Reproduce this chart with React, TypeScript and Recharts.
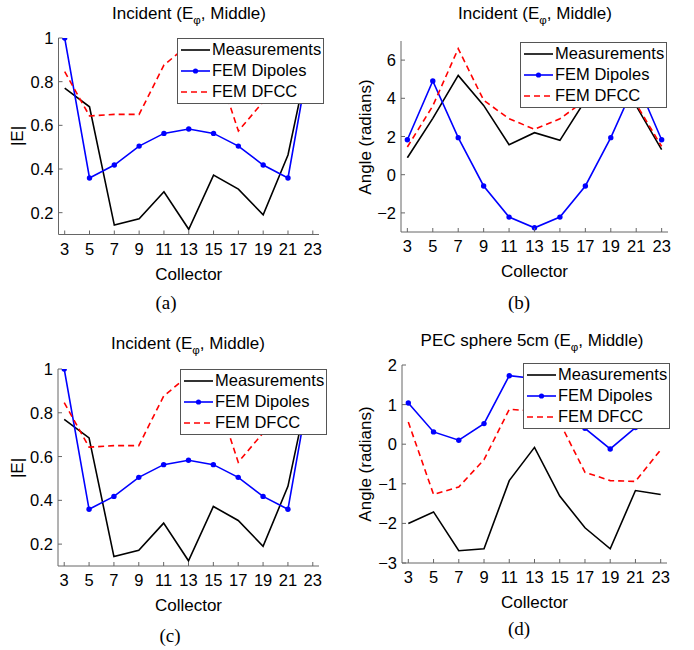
import React from 'react';
import { LineChart, Line, XAxis, YAxis, Legend } from 'recharts';

const collectors = [3, 5, 7, 9, 11, 13, 15, 17, 19, 21, 23];
const xTicks = [3, 5, 7, 9, 11, 13, 15, 17, 19, 21, 23];

// Panels (a) and (c): |E|
const magMeas = [0.77, 0.685, 0.143, 0.172, 0.296, 0.124, 0.372, 0.308, 0.19, 0.464, 1.0];
const magDip = [1.0, 0.359, 0.418, 0.505, 0.563, 0.583, 0.563, 0.505, 0.418, 0.359, 1.0];
const magDfcc = [0.846, 0.643, 0.65, 0.65, 0.876, 0.97, 0.92, 0.574, 0.708, 0.84, 0.86];
const magTicks = [0.2, 0.4, 0.6, 0.8, 1];

// Panel (b): Angle, incident
const angMeas = [0.89, 2.95, 5.2, 3.63, 1.57, 2.2, 1.8, 3.9, 4.8, 3.6, 1.31];
const angDip = [1.83, 4.91, 1.94, -0.59, -2.22, -2.78, -2.22, -0.59, 1.94, 4.91, 1.83];
const angDfcc = [1.45, 3.6, 6.6, 3.9, 2.93, 2.38, 2.93, 3.9, 6.6, 3.7, 1.48];
const angTicks = [-2, 0, 2, 4, 6];

// Panel (d): Angle, PEC sphere
const pecMeas = [-2.0, -1.71, -2.69, -2.64, -0.92, -0.08, -1.31, -2.11, -2.64, -1.17, -1.27];
const pecDip = [1.04, 0.31, 0.1, 0.52, 1.73, 1.66, 1.2, 0.4, -0.12, 0.42, 1.0];
const pecDfcc = [0.56, -1.27, -1.08, -0.39, 0.88, 0.84, 0.55, -0.71, -0.92, -0.94, -0.14];
const pecTicks = [-3, -2, -1, 0, 1, 2];

const seriesNames = ['Measurements', 'FEM Dipoles', 'FEM DFCC'];

const build = (m: number[], d: number[], f: number[]) =>
  collectors.map((c, i) => ({ c, meas: m[i], dip: d[i], dfcc: f[i] }));

const FONT = '"Liberation Sans", Arial, Helvetica, sans-serif';
const SERIF = '"Liberation Serif", "Times New Roman", serif';
const AX = '#666666';
const PW = 347;
const PH = 325;
const TICK_FS = 16.5;

const fmt = (v: number) => (v < 0 ? '\u2212' + String(Math.abs(v)) : String(v));

const XTick = (props: any) => {
  const { x, y, payload } = props;
  return (
    <g>
      <line x1={x} x2={x} y1={y} y2={y - 4} stroke={AX} strokeWidth={1} />
      <text x={x} y={y + 14} textAnchor="middle" dominantBaseline="central" fill="#000" fontSize={TICK_FS} fontFamily={FONT}>
        {fmt(payload.value)}
      </text>
    </g>
  );
};

const YTick = (props: any) => {
  const { x, y, payload } = props;
  return (
    <g>
      <line x1={x} x2={x + 4} y1={y} y2={y} stroke={AX} strokeWidth={1} />
      <text x={x - 5} y={y} textAnchor="end" dominantBaseline="central" fill="#000" fontSize={TICK_FS} fontFamily={FONT}>
        {fmt(payload.value)}
      </text>
    </g>
  );
};

const LegendBox = () => (
  <div
    style={{
      width: 147,
      height: 66,
      background: '#fff',
      border: '1px solid #555',
      boxSizing: 'border-box',
      fontFamily: FONT,
      fontSize: 16.5,
      color: '#000',
    }}
  >
    {seriesNames.map((n, i) => (
      <div key={n} style={{ height: 21, display: 'flex', alignItems: 'center', lineHeight: 1 }}>
        <svg width={32} height={12} style={{ marginLeft: 2, flex: 'none' }}>
          <line
            x1={1}
            x2={30}
            y1={6}
            y2={6}
            stroke={i === 0 ? '#000' : i === 1 ? '#0000ff' : '#ff0000'}
            strokeWidth={1.6}
            strokeDasharray={i === 2 ? '6 4' : undefined}
          />
          {i === 1 && <circle cx={15.5} cy={6} r={2.6} fill="#0000ff" />}
        </svg>
        <span style={{ whiteSpace: 'nowrap' }}>{n}</span>
      </div>
    ))}
  </div>
);

type PanelProps = {
  ox: number;
  oy: number;
  l: number;
  r: number;
  t: number;
  b: number;
  domain: [number, number];
  ticks: number[];
  data: any[];
  title: React.ReactNode;
  titleX: number;
  titleY: number;
  yLabel: string;
  yLabelX: number;
  caption: string;
  captionX: number;
  captionY: number;
  legX: number;
  legY: number;
};

const Panel = (p: PanelProps) => {
  const yAxisW = 40;
  const xAxisH = 30;
  return (
    <div style={{ position: 'absolute', left: p.ox, top: p.oy, width: PW, height: PH }}>
      <LineChart
        width={PW}
        height={PH}
        data={p.data}
        margin={{ top: p.t, right: PW - p.r, bottom: PH - p.b - xAxisH, left: p.l - yAxisW }}
      >
        <XAxis
          dataKey="c"
          type="number"
          domain={[2.5, 23.5]}
          allowDataOverflow
          ticks={xTicks}
          interval={0}
          height={xAxisH}
          tickLine={false}
          tickSize={0}
          tickMargin={0}
          axisLine={{ stroke: AX, strokeWidth: 1 }}
          tick={<XTick />}
        />
        <YAxis
          type="number"
          domain={p.domain}
          allowDataOverflow
          ticks={p.ticks}
          interval={0}
          width={yAxisW}
          tickLine={false}
          tickSize={0}
          tickMargin={0}
          axisLine={{ stroke: AX, strokeWidth: 1 }}
          tick={<YTick />}
        />
        <Line dataKey="meas" stroke="#000" strokeWidth={1.6} dot={false} isAnimationActive={false} />
        <Line
          dataKey="dip"
          stroke="#0000ff"
          strokeWidth={1.6}
          dot={{ r: 2.7, fill: '#0000ff', stroke: '#0000ff', strokeWidth: 0 }}
          isAnimationActive={false}
        />
        <Line
          dataKey="dfcc"
          stroke="#ff0000"
          strokeWidth={1.6}
          strokeDasharray="6 4"
          dot={false}
          isAnimationActive={false}
        />
        <Legend
          layout="vertical"
          align="center"
          verticalAlign="middle"
          wrapperStyle={{ position: 'absolute', left: p.legX, top: p.legY, width: 147, height: 66 }}
          content={() => <LegendBox />}
        />
      </LineChart>
      <div
        style={{
          position: 'absolute',
          left: p.titleX,
          top: p.titleY,
          transform: 'translate(-50%, -50%)',
          fontFamily: FONT,
          fontSize: 17,
          whiteSpace: 'nowrap',
          lineHeight: 1,
          color: '#000',
        }}
      >
        {p.title}
      </div>
      <div
        style={{
          position: 'absolute',
          left: p.yLabelX,
          top: (p.t + p.b) / 2,
          transform: 'translate(-50%, -50%) rotate(-90deg)',
          fontFamily: FONT,
          fontSize: 17,
          whiteSpace: 'nowrap',
          lineHeight: 1,
          color: '#000',
        }}
      >
        {p.yLabel}
      </div>
      <div
        style={{
          position: 'absolute',
          left: (p.l + p.r) / 2,
          top: p.b + 39,
          transform: 'translate(-50%, -50%)',
          fontFamily: FONT,
          fontSize: 17,
          whiteSpace: 'nowrap',
          lineHeight: 1,
          color: '#000',
        }}
      >
        Collector
      </div>
      <div
        style={{
          position: 'absolute',
          left: p.captionX,
          top: p.captionY,
          transform: 'translate(-50%, -50%)',
          fontFamily: SERIF,
          fontSize: 19,
          whiteSpace: 'nowrap',
          lineHeight: 1,
          color: '#000',
        }}
      >
        {p.caption}
      </div>
    </div>
  );
};

const Sub = () => (
  <span style={{ fontSize: '0.68em', position: 'relative', top: '0.45em' }}>φ</span>
);

const incTitle = (
  <span>
    Incident (E<Sub />, Middle)
  </span>
);
const pecTitle = (
  <span>
    PEC sphere 5cm (E<Sub />, Middle)
  </span>
);

export default function App() {
  const magData = build(magMeas, magDip, magDfcc);
  const angData = build(angMeas, angDip, angDfcc);
  const pecData = build(pecMeas, pecDip, pecDfcc);
  return (
    <div style={{ position: 'absolute', left: 0, top: 0, width: 694, height: 650, background: '#fff', overflow: 'hidden' }}>
      <Panel
        ox={0} oy={0} l={58.5} r={319} t={38} b={234.5}
        domain={[0.1, 1]} ticks={magTicks} data={magData}
        title={incTitle} titleX={189} titleY={13}
        yLabel="|E|" yLabelX={17}
        caption="(a)" captionX={166} captionY={302}
        legX={177} legY={38}
      />
      <Panel
        ox={347} oy={0} l={54} r={321} t={41} b={232}
        domain={[-3, 7]} ticks={angTicks} data={angData}
        title={incTitle} titleX={188} titleY={13}
        yLabel="Angle (radians)" yLabelX={18}
        caption="(b)" captionX={172} captionY={302}
        legX={173} legY={42}
      />
      <Panel
        ox={0} oy={325} l={58} r={319} t={44} b={241}
        domain={[0.1, 1]} ticks={magTicks} data={magData}
        title={incTitle} titleX={188} titleY={18}
        yLabel="|E|" yLabelX={17}
        caption="(c)" captionX={170} captionY={310}
        legX={180} legY={44}
      />
      <Panel
        ox={347} oy={325} l={55} r={320} t={40} b={238}
        domain={[-3, 2]} ticks={pecTicks} data={pecData}
        title={pecTitle} titleX={185} titleY={15}
        yLabel="Angle (radians)" yLabelX={18}
        caption="(d)" captionX={172} captionY={303}
        legX={176} legY={38}
      />
    </div>
  );
}
